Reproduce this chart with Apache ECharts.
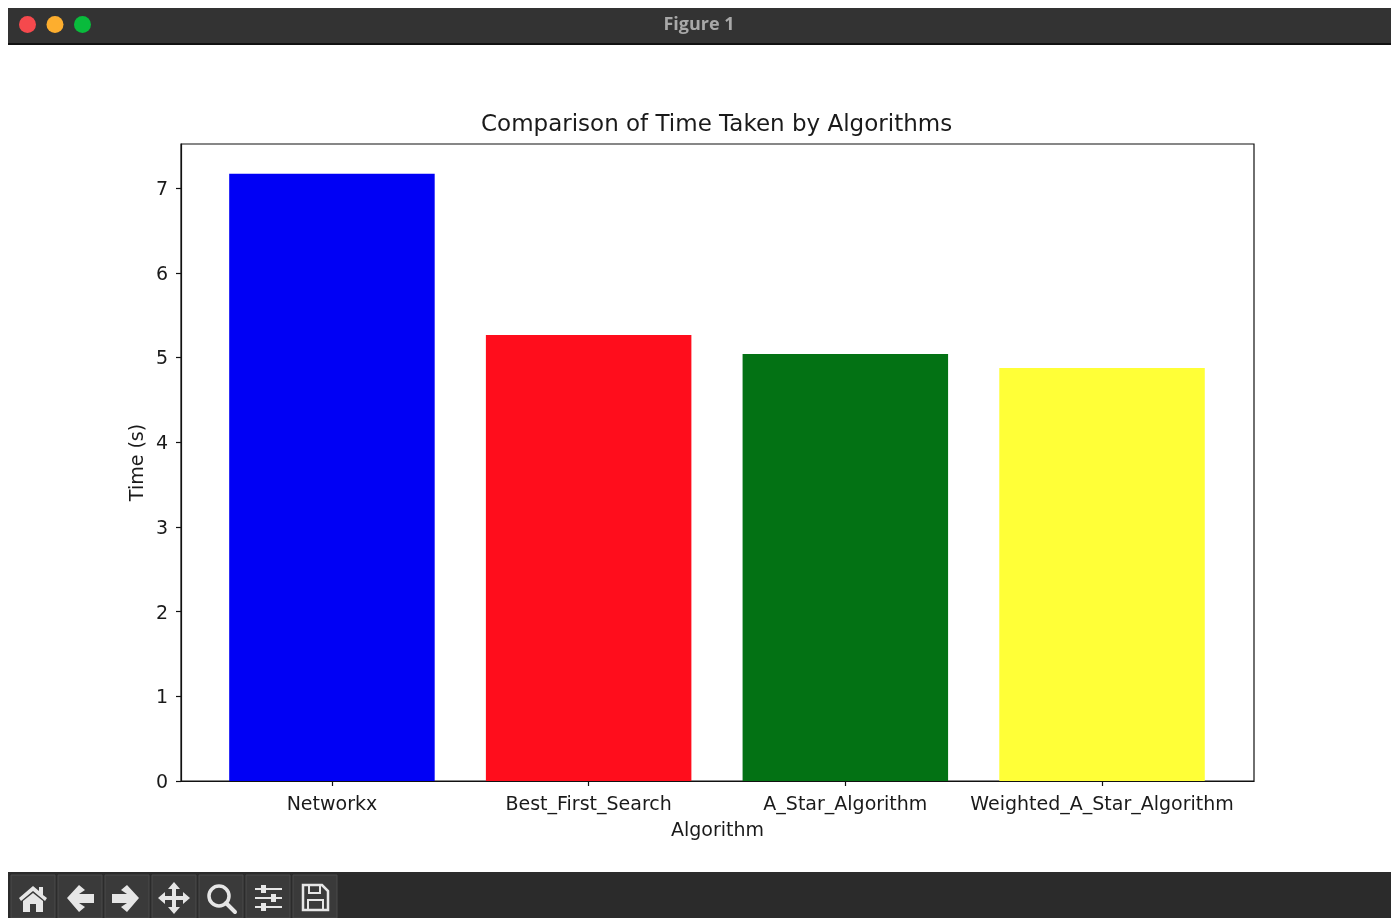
<!DOCTYPE html>
<html><head><meta charset="utf-8">
<style>html,body{margin:0;padding:0;background:#fff}#c{width:1396px;height:918px}</style>
<script src="https://cdn.jsdelivr.net/npm/echarts@6/dist/echarts.min.js"></script>
</head><body><div id="c"></div>
<script>
const categories = ['Networkx','Best_First_Search','A_Star_Algorithm','Weighted_A_Star_Algorithm'];
const times = [7.17,5.265,5.04,4.875];
const colors = ['#0000f5','#ff0d1c','#037214','#ffff37'];
const yTicks = [0,1,2,3,4,5,6,7];
const xPositions = [0,1,2,3];
const windowTitle = 'Figure 1';
const chartTitle = 'Comparison of Time Taken by Algorithms';
const xName = 'Algorithm';
const yName = 'Time (s)';
const font = '"DejaVu Sans"';
const ink = '#1a1a1a';

const chart = echarts.init(document.getElementById('c'), null, {renderer:'canvas'});

function btn(x){ return {type:'rect',shape:{x:x,y:875,width:44,height:43},style:{fill:'#3a3a3a',stroke:'#4a4a4a',lineWidth:1}}; }
const icon = '#e6e6e6';
const chrome = [
  {type:'rect',shape:{x:8,y:8,width:1383,height:36},style:{fill:'#333333'}},
  {type:'rect',shape:{x:8,y:43,width:1383,height:2},style:{fill:'#111111'}},
  {type:'circle',shape:{cx:27.5,cy:24.5,r:8.5},style:{fill:'#f5494d'}},
  {type:'circle',shape:{cx:55,cy:24.5,r:8.5},style:{fill:'#fdae2e'}},
  {type:'circle',shape:{cx:82.5,cy:24.5,r:8.5},style:{fill:'#09bb3c'}},
  {type:'text',style:{x:699,y:24.5,text:windowTitle,fill:'#a8a8a8',font:'bold 18px "Open Sans"',align:'center',verticalAlign:'middle'}},
  {type:'rect',shape:{x:8,y:872,width:1383,height:46},style:{fill:'#2b2b2b'}},
  btn(11),btn(58),btn(105),btn(152),btn(199),btn(246),btn(293),
  // home
  {type:'polygon',shape:{points:[[19,898],[33,886],[39,891],[39,887],[43,887],[43,895],[47,898],[45,901],[33,891],[21,901]]},style:{fill:icon}},
  {type:'polygon',shape:{points:[[23,901],[33,893],[43,901],[43,912],[36,912],[36,904],[30,904],[30,912],[23,912]]},style:{fill:icon}},
  // back
  {type:'polygon',shape:{points:[[67,898],[79,885],[85,890],[79,894],[94,894],[94,903],[79,903],[85,907],[79,912]]},style:{fill:icon}},
  // forward
  {type:'polygon',shape:{points:[[139,898],[127,885],[121,890],[127,894],[112,894],[112,903],[127,903],[121,907],[127,912]]},style:{fill:icon}},
  // move
  {type:'polygon',shape:{points:[[174,882],[180,889],[176,889],[176,896],[183,896],[183,892],[190,898],[183,904],[183,900],[176,900],[176,907],[180,907],[174,914],[168,907],[172,907],[172,900],[165,900],[165,904],[158,898],[165,892],[165,896],[172,896],[172,889],[168,889]]},style:{fill:icon}},
  // zoom
  {type:'circle',shape:{cx:219,cy:896,r:10},style:{fill:'none',stroke:icon,lineWidth:3.5}},
  {type:'line',shape:{x1:226,y1:903,x2:235,y2:912},style:{stroke:icon,lineWidth:4,lineCap:'round'}},
  // sliders
  {type:'line',shape:{x1:255,y1:889,x2:282,y2:889},style:{stroke:icon,lineWidth:2}},
  {type:'line',shape:{x1:255,y1:898,x2:282,y2:898},style:{stroke:icon,lineWidth:2}},
  {type:'line',shape:{x1:255,y1:907,x2:282,y2:907},style:{stroke:icon,lineWidth:2}},
  {type:'rect',shape:{x:261,y:885,width:5,height:8},style:{fill:icon}},
  {type:'rect',shape:{x:271,y:894,width:5,height:8},style:{fill:icon}},
  {type:'rect',shape:{x:261,y:903,width:5,height:8},style:{fill:icon}},
  // save
  {type:'polygon',shape:{points:[[303,885],[322,885],[328,891],[328,910],[303,910]]},style:{fill:'none',stroke:icon,lineWidth:2.5}},
  {type:'rect',shape:{x:309,y:885,width:11,height:8},style:{fill:'none',stroke:icon,lineWidth:2}},
  {type:'rect',shape:{x:308,y:900,width:15,height:10},style:{fill:'none',stroke:icon,lineWidth:2}}
];

chart.setOption({
  animation:false,
  backgroundColor:'#fff',
  title:{text:chartTitle,left:476,top:109,
    textStyle:{fontFamily:font,fontSize:23,fontWeight:'normal',color:ink}},
  grid:{left:181,top:144,width:1073,height:637,show:true,borderColor:'#111',borderWidth:1.2,backgroundColor:'transparent'},
  xAxis:{type:'value',min:-0.588,max:3.592,
    name:xName,nameLocation:'middle',nameGap:41,
    nameTextStyle:{fontFamily:font,fontSize:19,color:ink},
    splitLine:{show:false},
    axisLine:{show:true,onZero:false,lineStyle:{color:'#111',width:1.2}},
    axisTick:{show:true,length:5,customValues:xPositions,lineStyle:{color:'#111',width:1.2}},
    axisLabel:{customValues:xPositions,margin:15,fontFamily:font,fontSize:19,color:ink,
      formatter:v=>categories[Math.round(v)]}},
  yAxis:{type:'value',min:0,max:7.52,
    name:yName,nameLocation:'middle',nameGap:33,nameMoveOverlap:false,
    nameTextStyle:{fontFamily:font,fontSize:19,color:ink},
    splitLine:{show:false},
    axisLine:{show:true,onZero:false,lineStyle:{color:'#111',width:1.2}},
    axisTick:{show:true,length:5,customValues:yTicks,lineStyle:{color:'#111',width:1.2}},
    axisLabel:{customValues:yTicks,margin:13,fontFamily:font,fontSize:19,color:ink,
      formatter:v=>'{n|'+v+'}',
      rich:{n:{fontFamily:font,fontSize:19,color:ink,padding:[4,0,0,0]}}}},
  series:[{type:'bar',barWidth:205.5,
    data:times.map((t,i)=>({value:[xPositions[i],t],itemStyle:{color:colors[i]}}))}],
  graphic:{elements:chrome}
});
</script></body></html>
